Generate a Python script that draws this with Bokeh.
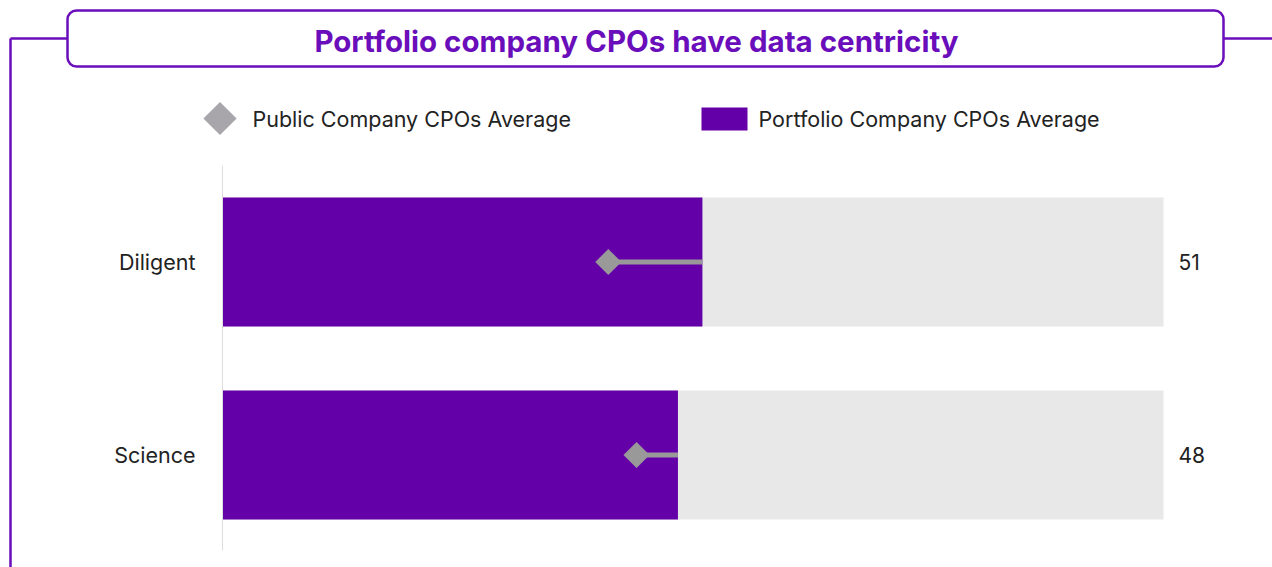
import math
from bokeh.plotting import figure
from bokeh.models import Range1d, BoxAnnotation, Label
from bokeh.core.properties import value
from bokeh.embed import file_html
from bokeh.resources import INLINE

# ---- data ----
title_text = "Portfolio company CPOs have data centricity"
categories = ["Diligent", "Science"]
portfolio_avg = [51, 48.4]
public_avg = [41, 44]
scale_max = 100
legend_labels = ["Public Company CPOs Average", "Portfolio Company CPOs Average"]

# ---- styling ----
PURPLE_BAR = "#6300A8"
PURPLE_LINE = "#6A0DBA"
GREY_BG = "#E8E8E8"
DIAMOND = "#999999"
LEG_DIAMOND = "#A8A6AB"
TEXT = "#222222"
FONT = "Inter"

W, H = 1272, 567
# pixel mapping (page coords -> data coords); frame fills whole canvas
X0_PAGE, X100_PAGE = 222, 1163
PX_PER_UNIT = (X100_PAGE - X0_PAGE) / scale_max
ROW_PX = 193.0
ROW0_PAGE = 454.5  # centre of bottom row


def X(px):
    return (px - X0_PAGE) / PX_PER_UNIT


def Y(py):
    return (ROW0_PAGE - py) / ROW_PX


p = figure(width=W, height=H, output_backend="svg", toolbar_location=None,
           x_axis_location=None, y_axis_location=None,
           x_range=Range1d(X(0), X(W)), y_range=Range1d(Y(H), Y(0)),
           min_border=0, outline_line_color=None, background_fill_color="white",
           border_fill_color="white")
p.xgrid.visible = False
p.ygrid.visible = False

n = len(categories)
ys = [n - 1 - i for i in range(n)]
bar_h = 129 / ROW_PX

# background bars
p.hbar(y=ys, left=0, right=[scale_max] * n, height=bar_h, color=GREY_BG, line_color=None)
# portfolio bars
p.hbar(y=ys, left=0, right=portfolio_avg, height=bar_h, color=PURPLE_BAR, line_color=None)
# connectors
p.segment(x0=public_avg, y0=ys, x1=portfolio_avg, y1=ys, line_color=DIAMOND, line_width=5)
# public diamonds
p.scatter(x=public_avg, y=ys, marker="square", size=18.5, angle=math.pi / 4,
          color=DIAMOND, line_color=None)

# axis line (left)
p.segment(x0=[0], y0=[Y(165)], x1=[0], y1=[Y(550)], line_color="#DDDDDD", line_width=1)

# category labels
p.text(x=[X(195)] * n, y=ys, text=categories, text_align="right", text_baseline="middle",
       text_font=value(FONT), text_font_size="21.5px", text_color=TEXT)
# value labels
p.text(x=[scale_max] * n, y=ys, text=[f"{v:.0f}" for v in portfolio_avg], x_offset=15,
       text_align="left", text_baseline="middle",
       text_font=value(FONT), text_font_size="21px", text_color=TEXT)

# title frame decoration
p.segment(x0=[X(10), X(10), X(1223)], y0=[Y(38), Y(38), Y(38)],
          x1=[X(67), X(10), X(1275)], y1=[Y(38), Y(570), Y(38)],
          line_color=PURPLE_LINE, line_width=2.5)
box = BoxAnnotation(left=X(67), right=X(1223), top=Y(10), bottom=Y(66),
                    fill_color="white", fill_alpha=1.0, line_color=PURPLE_LINE,
                    line_alpha=1.0, line_width=2.5, border_radius=9)
p.add_layout(box)
p.add_layout(Label(x=X(636), y=Y(40), text=title_text, text_align="center",
                   text_baseline="middle", text_font=FONT, text_font_style="bold",
                   text_font_size="29.5px", text_color=PURPLE_LINE))

# legend (manual)
p.scatter(x=[X(219.5)], y=[Y(118)], marker="square", size=23.5, angle=math.pi / 4,
          color=LEG_DIAMOND, line_color=None)
p.rect(x=[X(724)], y=[Y(118.5)], width=46, height=23, width_units="screen",
       height_units="screen", color=PURPLE_BAR, line_color=None)
p.text(x=[X(252), X(758)], y=[Y(118), Y(118)], text=legend_labels, text_align="left",
       text_baseline="middle", text_font=value(FONT), text_font_size="21.5px",
       text_color=TEXT)

open("out.html", "w").write(file_html(p, INLINE))
